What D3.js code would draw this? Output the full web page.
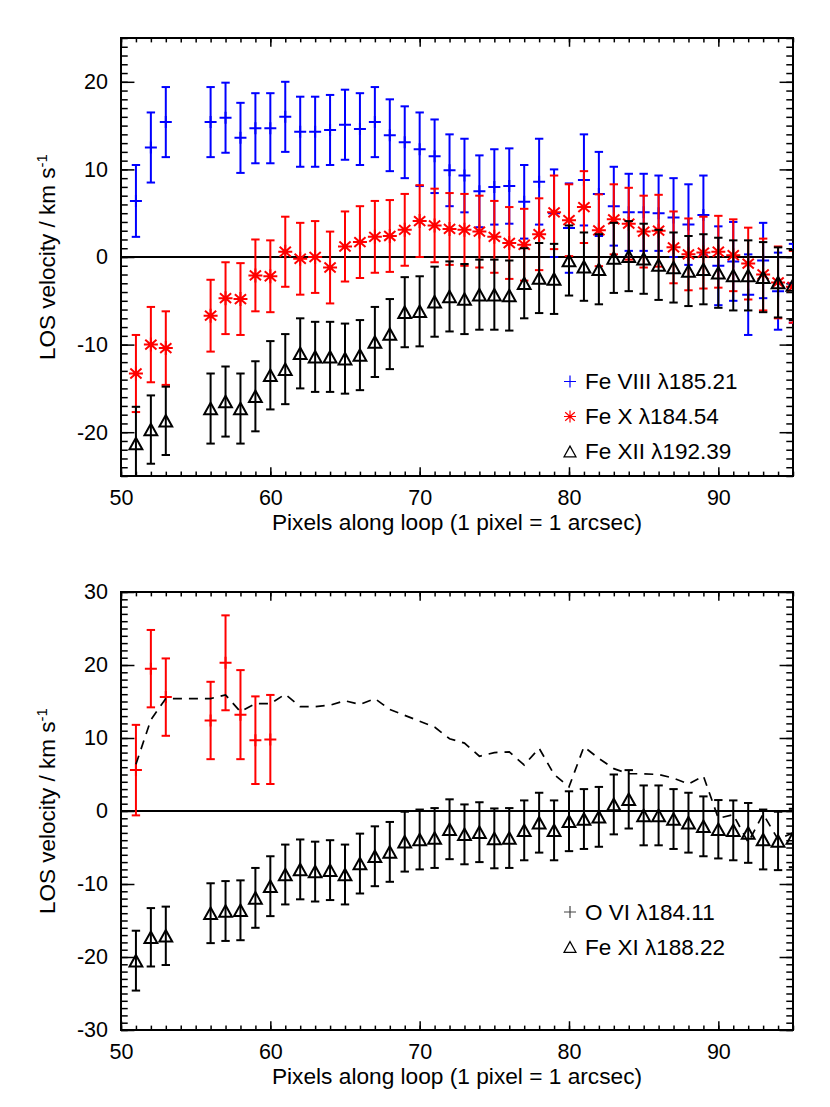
<!DOCTYPE html>
<html>
<head>
<meta charset="utf-8">
<script src="https://cdn.jsdelivr.net/npm/d3@7"></script>
<style>
  body { margin: 0; background: #fff; }
  text { font-family: "Liberation Sans", Arial, Helvetica, sans-serif; }
</style>
</head>
<body>
<script>
// pixel positions along the loop (54, 55 missing)
const pixels = [51, 52, 53, 56, 57, 58, 59, 60, 61, 62, 63, 64, 65, 66, 67, 68, 69, 70, 71, 72, 73, 74,
  75, 76, 77, 78, 79, 80, 81, 82, 83, 84, 85, 86, 87, 88, 89, 90, 91, 92, 93, 94, 95];

// top panel
const feVIII = [6.4, 12.5, 15.4, 15.4, 15.9, 13.6, 14.7, 14.7, 16.0, 14.3, 14.3, 14.5, 15.1, 14.6, 15.4, 13.9,
  13.1, 12.3, 11.5, 9.9, 9.3, 7.5, 8.0, 8.1, 6.3, 8.6, 5.0, 3.3, 8.8, 7.2, 5.8, 5.1, 5.1, 5.0, 4.5, 3.7, 4.8,
  -1.0, -0.5, -4.3, -0.4, -3.9, -3.0];
const feVIIIErr = [4.1, 4.0, 4.0, 4.0, 4.0, 4.0, 4.0, 4.0, 4.0, 4.0, 4.0, 4.0, 4.0, 4.1, 4.0, 4.1, 4.1, 4.2,
  4.2, 4.1, 4.2, 4.1, 4.3, 4.3, 4.2, 4.9, 5.0, 5.1, 5.2, 4.8, 4.5, 4.4, 4.4, 4.3, 4.5, 4.6, 4.5, 4.5, 4.5, 4.6,
  4.3, 4.4, 4.5];
const feX = [-13.3, -10.0, -10.4, -6.7, -4.7, -4.8, -2.1, -2.2, 0.6, -0.2, 0.0, -1.2, 1.2, 1.7, 2.3, 2.4, 3.1,
  4.1, 3.6, 3.2, 3.1, 2.9, 2.3, 1.6, 1.4, 2.6, 5.1, 4.2, 5.7, 3.05, 4.3, 3.8, 2.9, 3.0, 1.1, 0.3, 0.5, 0.6, 0.2,
  -0.75, -2.0, -2.9, -3.4];
const feXErr = [4.4, 4.3, 4.2, 4.1, 4.1, 4.1, 4.1, 4.1, 4.0, 4.1, 4.1, 4.1, 4.0, 4.1, 4.1, 4.1, 4.1, 4.1, 4.2,
  4.1, 4.1, 4.1, 4.1, 4.1, 4.1, 4.1, 4.2, 4.1, 4.1, 4.1, 4.0, 4.1, 4.1, 4.1, 4.1, 4.1, 4.1, 4.1, 4.1, 4.1, 4.1,
  4.1, 4.1];
const feXII = [-21.3, -19.7, -18.7, -17.3, -16.5, -17.3, -15.9, -13.5, -12.8, -11.0, -11.4, -11.4, -11.6, -11.2,
  -9.7, -8.8, -6.3, -6.2, -5.1, -4.5, -4.8, -4.3, -4.3, -4.4, -3.0, -2.4, -2.5, -0.4, -1.1, -1.4, -0.1, 0.1,
  -0.2, -0.9, -1.2, -1.6, -1.4, -1.8, -2.1, -2.1, -2.3, -2.9, -3.2];
const feXIIErr = [4.2, 3.9, 3.9, 4.0, 4.0, 4.0, 4.0, 3.9, 4.0, 4.0, 4.0, 4.0, 4.0, 4.0, 4.0, 4.0, 4.0, 4.0,
  4.0, 4.0, 4.0, 4.0, 4.0, 4.0, 4.0, 4.0, 4.0, 4.0, 3.9, 4.0, 4.0, 4.0, 4.0, 4.0, 4.0, 4.0, 4.0, 4.0, 4.0, 4.0,
  4.0, 4.0, 4.0];

// bottom panel
const oviPixels = [51, 52, 53, 56, 57, 58, 59, 60];
const ovi = [5.6, 19.5, 15.6, 12.4, 20.3, 13.2, 9.7, 9.8];
const oviErr = [6.2, 5.3, 5.3, 5.3, 6.5, 6.1, 6.0, 6.1];
const feXI = [-20.5, -17.3, -17.1, -14.0, -13.7, -13.6, -11.9, -10.3, -8.7, -8.0, -8.3, -8.1, -8.7, -7.2, -6.2,
  -5.6, -4.2, -3.9, -3.7, -2.5, -3.2, -2.9, -3.75, -3.7, -2.65, -1.6, -2.65, -1.4, -1.1, -0.8, 0.9, 1.6, -0.6,
  -0.6, -1.1, -1.6, -2.1, -2.5, -2.65, -3.0, -3.9, -4.1, -3.7];
const feXIErr = [4.1, 4.0, 4.0, 4.1, 4.1, 4.1, 4.1, 4.1, 4.1, 4.1, 4.1, 4.1, 4.1, 4.1, 4.1, 4.1, 4.1, 4.1, 4.1,
  4.1, 4.1, 4.1, 4.1, 4.1, 4.1, 4.1, 4.1, 4.1, 4.1, 4.1, 4.1, 4.0, 4.1, 4.1, 4.1, 4.1, 4.1, 4.0, 4.1, 4.1, 4.1,
  4.0, 4.0];

const xTicks = [50, 60, 70, 80, 90];
const yTicksTop = [-20, -10, 0, 10, 20];
const yTicksBottom = [-30, -20, -10, 0, 10, 20, 30];
const xTitle = 'Pixels along loop (1 pixel = 1 arcsec)';

const W = 830, H = 1107;
const left = 121, right = 793;
const w = right - left;

const svg = d3.select('body').append('svg')
  .attr('width', W).attr('height', H)
  .style('background', '#fff');

// marker shapes
const sym = {
  plus: s => `M${-s},0H${s}M0,${-s}V${s}`,
  star: s => `M${-s},0H${s}M0,${-s}V${s}M${-s * 0.8},${-s * 0.7}L${s * 0.8},${s * 0.7}M${-s * 0.8},${s * 0.7}L${s * 0.8},${-s * 0.7}`,
  tri: s => `M0,${-s * 0.9}L${s},${s * 0.9}L${-s},${s * 0.9}Z`
};
const symSize = { plus: 6, star: 7, tri: 6.4 };

const makePanel = (id, y0, height, yDomain, yTicks) => {
  const g = svg.append('g').attr('transform', `translate(${left},${y0})`);
  const x = d3.scaleLinear().domain([50, 95]).range([0, w]);
  const y = d3.scaleLinear().domain(yDomain).range([height, 0]);

  g.append('clipPath').attr('id', id).append('rect')
    .attr('width', w).attr('height', height);

  const xMinor = d3.range(50, 96, 1);
  const yMinor = d3.range(yDomain[0], yDomain[1] + 1, 1);
  const txl = 0.02 * height, tyl = 0.02 * w;
  const fmt = d => String(d);

  const axes = [
    g.append('g').attr('transform', `translate(0,${height})`)
      .call(d3.axisBottom(x).tickValues(xMinor).tickSize(-txl / 2).tickFormat('')),
    g.append('g').attr('transform', `translate(0,${height})`)
      .call(d3.axisBottom(x).tickValues(xTicks).tickSize(-txl).tickPadding(14).tickFormat(fmt)),
    g.append('g').call(d3.axisTop(x).tickValues(xMinor).tickSize(-txl / 2).tickFormat('')),
    g.append('g').call(d3.axisTop(x).tickValues(xTicks).tickSize(-txl).tickFormat('')),
    g.append('g').call(d3.axisLeft(y).tickValues(yMinor).tickSize(-tyl / 2).tickFormat('')),
    g.append('g').call(d3.axisLeft(y).tickValues(yTicks).tickSize(-tyl).tickPadding(13).tickFormat(fmt)),
    g.append('g').attr('transform', `translate(${w},0)`)
      .call(d3.axisRight(y).tickValues(yMinor).tickSize(-tyl / 2).tickFormat('')),
    g.append('g').attr('transform', `translate(${w},0)`)
      .call(d3.axisRight(y).tickValues(yTicks).tickSize(-tyl).tickFormat(''))
  ];
  axes.forEach(a => {
    a.select('.domain').remove();
    a.attr('font-size', 21.5).attr('font-family', '"Liberation Sans", Arial, sans-serif');
    a.selectAll('line').attr('stroke', '#000').attr('stroke-width', 1.5);
    a.selectAll('text').attr('fill', '#000');
  });

  // zero line
  g.append('line')
    .attr('x1', 0).attr('x2', w).attr('y1', y(0)).attr('y2', y(0))
    .attr('stroke', '#000').attr('stroke-width', 2);

  g.append('rect')
    .attr('width', w).attr('height', height)
    .attr('fill', 'none').attr('stroke', '#000').attr('stroke-width', 2);

  // titles
  g.append('text')
    .attr('x', w / 2).attr('y', height + 54)
    .attr('text-anchor', 'middle').attr('font-size', 22.7)
    .text(xTitle);

  const yl = g.append('text')
    .attr('transform', `translate(${55 - left},${height / 2}) rotate(-90)`)
    .attr('text-anchor', 'middle').attr('font-size', 22.5);
  yl.append('tspan').text('LOS velocity / km s');
  yl.append('tspan').attr('dy', -8).attr('font-size', 15).text('-1');

  const plot = g.append('g').attr('clip-path', `url(#${id})`);
  return { g, plot, x, y };
};

const errorSeries = (p, xs, vals, errs, color, shape) => {
  const data = xs.map((px, i) => ({ px, v: vals[i], e: errs[i] }));
  const s = p.plot.append('g').attr('stroke', color).attr('stroke-width', 2).attr('fill', 'none');
  const pts = s.selectAll('g').data(data).enter().append('g')
    .attr('transform', d => `translate(${p.x(d.px)},0)`);
  pts.append('line')
    .attr('y1', d => p.y(d.v - d.e)).attr('y2', d => p.y(d.v + d.e));
  pts.append('line')
    .attr('x1', -4.2).attr('x2', 4.2)
    .attr('y1', d => p.y(d.v + d.e)).attr('y2', d => p.y(d.v + d.e));
  pts.append('line')
    .attr('x1', -4.2).attr('x2', 4.2)
    .attr('y1', d => p.y(d.v - d.e)).attr('y2', d => p.y(d.v - d.e));
  pts.append('path')
    .attr('transform', d => `translate(0,${p.y(d.v)})`)
    .attr('d', sym[shape](symSize[shape]));
};

const legend = (p, items, y0) => {
  items.forEach((it, i) => {
    const yy = y0 + i * 35;
    p.g.append('path')
      .attr('transform', `translate(${570 - left},${yy})`)
      .attr('d', sym[it.shape](6))
      .attr('fill', 'none').attr('stroke', it.color).attr('stroke-width', 1.2);
    p.g.append('text')
      .attr('x', 585 - left).attr('y', yy + 7.5)
      .attr('font-size', 22.5)
      .text(it.label);
  });
};

// top panel
const topPanel = makePanel('clipTop', 38, 438, [-25, 25], yTicksTop);
errorSeries(topPanel, pixels, feVIII, feVIIIErr, '#0000ff', 'plus');
errorSeries(topPanel, pixels, feX, feXErr, '#ff0000', 'star');
errorSeries(topPanel, pixels, feXII, feXIIErr, '#000000', 'tri');
legend(topPanel, [
  { label: 'Fe VIII λ185.21', color: '#0000ff', shape: 'plus' },
  { label: 'Fe X λ184.54', color: '#ff0000', shape: 'star' },
  { label: 'Fe XII λ192.39', color: '#000000', shape: 'tri' }
], 381.5 - 38);

// bottom panel
const botPanel = makePanel('clipBot', 592, 438, [-30, 30], yTicksBottom);
errorSeries(botPanel, oviPixels, ovi, oviErr, '#ff0000', 'plus');
botPanel.plot.append('path')
  .datum(pixels.map((px, i) => [px, feVIII[i]]))
  .attr('fill', 'none').attr('stroke', '#000').attr('stroke-width', 1.7)
  .attr('stroke-dasharray', '9,7')
  .attr('d', d3.line().x(d => botPanel.x(d[0])).y(d => botPanel.y(d[1])));
errorSeries(botPanel, pixels, feXI, feXIErr, '#000000', 'tri');
legend(botPanel, [
  { label: 'O VI λ184.11', color: '#444', shape: 'plus' },
  { label: 'Fe XI λ188.22', color: '#000000', shape: 'tri' }
], 912 - 592);
</script>
</body>
</html>
